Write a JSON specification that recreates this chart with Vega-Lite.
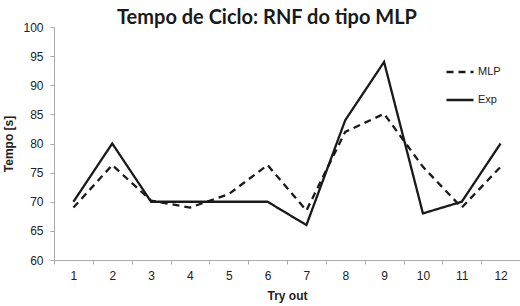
{
  "$schema": "https://vega.github.io/schema/vega-lite/v6.json",
  "autosize": {"type": "none"},
  "padding": {"left": 54, "top": 27, "right": 0, "bottom": 46},
  "width": 466,
  "height": 233,
  "background": "white",
  "title": {
    "text": "Tempo de Ciclo: RNF do tipo MLP",
    "font": "Lato",
    "fontSize": 20,
    "fontWeight": "bold",
    "color": "#1a1a1a",
    "anchor": "middle",
    "frame": "group",
    "dx": -20,
    "dy": 11,
    "offset": 4
  },
  "data": {
    "values": [
      {"t": 1, "s": "MLP", "v": 69},
      {"t": 2, "s": "MLP", "v": 76.3},
      {"t": 3, "s": "MLP", "v": 70.2},
      {"t": 4, "s": "MLP", "v": 69},
      {"t": 5, "s": "MLP", "v": 71.3},
      {"t": 6, "s": "MLP", "v": 76.3},
      {"t": 7, "s": "MLP", "v": 68.5},
      {"t": 8, "s": "MLP", "v": 82},
      {"t": 9, "s": "MLP", "v": 85.1},
      {"t": 10, "s": "MLP", "v": 76},
      {"t": 11, "s": "MLP", "v": 69},
      {"t": 12, "s": "MLP", "v": 76},
      {"t": 1, "s": "Exp", "v": 70},
      {"t": 2, "s": "Exp", "v": 80},
      {"t": 3, "s": "Exp", "v": 70},
      {"t": 4, "s": "Exp", "v": 70},
      {"t": 5, "s": "Exp", "v": 70},
      {"t": 6, "s": "Exp", "v": 70},
      {"t": 7, "s": "Exp", "v": 66},
      {"t": 8, "s": "Exp", "v": 84},
      {"t": 9, "s": "Exp", "v": 94},
      {"t": 10, "s": "Exp", "v": 68},
      {"t": 11, "s": "Exp", "v": 70},
      {"t": 12, "s": "Exp", "v": 80}
    ]
  },
  "mark": {"type": "line", "color": "#1a1a1a", "strokeWidth": 2.3},
  "encoding": {
    "x": {
      "field": "t",
      "type": "ordinal",
      "bandPosition": 0.5,
      "scale": {"type": "band", "paddingInner": 0, "paddingOuter": 0},
      "axis": {
        "title": "Try out",
        "labelAngle": 0,
        "tickBand": "extent",
        "domainColor": "#aaaaaa",
        "tickColor": "#aaaaaa",
        "tickSize": 4,
        "labelFont": "Liberation Sans",
        "labelFontSize": 12,
        "labelColor": "#222222",
        "labelPadding": 6,
        "titleFont": "Liberation Sans",
        "titleFontSize": 12,
        "titleFontWeight": "bold",
        "titleColor": "#222222",
        "titlePadding": 9
      }
    },
    "y": {
      "field": "v",
      "type": "quantitative",
      "scale": {"domain": [60, 100], "nice": false, "zero": false},
      "axis": {
        "title": "Tempo [s]",
        "values": [60, 65, 70, 75, 80, 85, 90, 95, 100],
        "grid": false,
        "domainColor": "#aaaaaa",
        "tickColor": "#aaaaaa",
        "tickSize": 4,
        "labelFont": "Liberation Sans",
        "labelFontSize": 12,
        "labelColor": "#222222",
        "labelPadding": 7,
        "titleFont": "Liberation Sans",
        "titleFontSize": 12,
        "titleFontWeight": "bold",
        "titleColor": "#222222",
        "titlePadding": 7
      }
    },
    "strokeDash": {
      "field": "s",
      "type": "nominal",
      "scale": {"domain": ["MLP", "Exp"], "range": [[7, 5], [1, 0]]},
      "legend": {
        "title": null,
        "orient": "none",
        "legendX": 391,
        "legendY": 30,
        "symbolType": "stroke",
        "symbolSize": 729,
        "symbolStrokeWidth": 2.3,
        "symbolStrokeColor": "#1a1a1a",
        "labelFont": "Liberation Sans",
        "labelFontSize": 11,
        "labelColor": "#222222",
        "labelOffset": 3,
        "rowPadding": 8
      }
    }
  },
  "config": {"view": {"stroke": null}}
}
